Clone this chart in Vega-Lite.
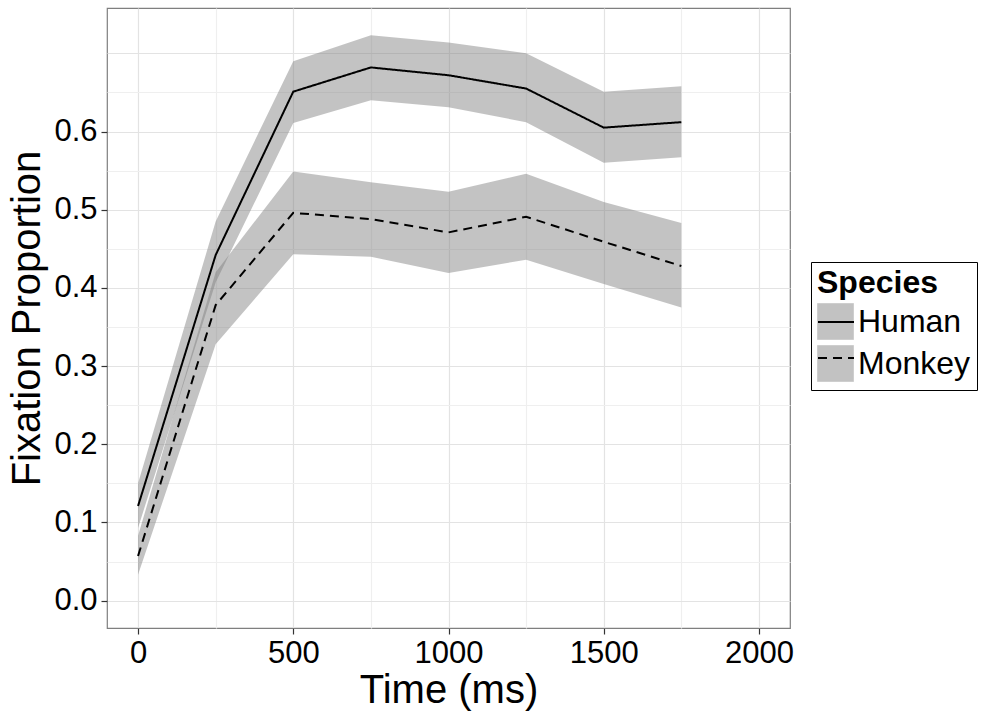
{
  "$schema": "https://vega.github.io/schema/vega-lite/v6.json",
  "autosize": "none",
  "width": 683,
  "height": 620,
  "padding": {"left": 107, "top": 8, "right": 207, "bottom": 97},
  "background": "white",
  "config": {
    "font": "Liberation Sans",
    "view": {"stroke": "#7f7f7f", "strokeWidth": 1.2}
  },
  "data": {
    "values": [
      {"Time": 0, "Species": "Human", "mean": 0.121, "lo": 0.093, "hi": 0.150},
      {"Time": 250, "Species": "Human", "mean": 0.442, "lo": 0.407, "hi": 0.485},
      {"Time": 500, "Species": "Human", "mean": 0.651, "lo": 0.611, "hi": 0.690},
      {"Time": 750, "Species": "Human", "mean": 0.682, "lo": 0.640, "hi": 0.723},
      {"Time": 1000, "Species": "Human", "mean": 0.672, "lo": 0.631, "hi": 0.714},
      {"Time": 1250, "Species": "Human", "mean": 0.655, "lo": 0.612, "hi": 0.700},
      {"Time": 1500, "Species": "Human", "mean": 0.605, "lo": 0.560, "hi": 0.651},
      {"Time": 1750, "Species": "Human", "mean": 0.612, "lo": 0.567, "hi": 0.658},
      {"Time": 0, "Species": "Monkey", "mean": 0.057, "lo": 0.033, "hi": 0.083},
      {"Time": 250, "Species": "Monkey", "mean": 0.378, "lo": 0.328, "hi": 0.420},
      {"Time": 500, "Species": "Monkey", "mean": 0.496, "lo": 0.443, "hi": 0.549},
      {"Time": 750, "Species": "Monkey", "mean": 0.488, "lo": 0.440, "hi": 0.535},
      {"Time": 1000, "Species": "Monkey", "mean": 0.471, "lo": 0.419, "hi": 0.523},
      {"Time": 1250, "Species": "Monkey", "mean": 0.491, "lo": 0.436, "hi": 0.546},
      {"Time": 1500, "Species": "Monkey", "mean": 0.459, "lo": 0.405, "hi": 0.510},
      {"Time": 1750, "Species": "Monkey", "mean": 0.428, "lo": 0.375, "hi": 0.483}
    ]
  },
  "encoding": {
    "x": {
      "field": "Time",
      "type": "quantitative",
      "scale": {"domain": [-100, 2100], "nice": false, "zero": false},
      "axis": {
        "title": "Time (ms)",
        "titleFontSize": 40,
        "titleFontWeight": "normal",
        "titleColor": "black",
        "titlePadding": 2,
        "values": [0, 250, 500, 750, 1000, 1250, 1500, 1750, 2000],
        "labelExpr": "datum.value % 500 === 0 ? format(datum.value, 'd') : ''",
        "labelFontSize": 31,
        "labelColor": "black",
        "labelPadding": 4,
        "labelOverlap": false,
        "labelFlush": false,
        "domain": false,
        "tickSize": 6,
        "tickWidth": 1.2,
        "tickColor": "#333333",
        "tickOpacity": {"condition": {"test": "datum.value % 500 !== 0", "value": 0}, "value": 1},
        "gridColor": {"condition": {"test": "datum.value % 500 === 0", "value": "#e3e3e3"}, "value": "#efefef"},
        "gridWidth": 1.2
      }
    },
    "y": {"field": "mean", "type": "quantitative"}
  },
  "layer": [
    {
      "mark": {"type": "area", "fillOpacity": 0.47},
      "encoding": {
        "y": {
          "field": "lo",
          "type": "quantitative",
          "scale": {"domain": [-0.035, 0.758], "nice": false, "zero": false},
          "axis": {
            "title": "Fixation Proportion",
            "titleFontSize": 40,
            "titleFontWeight": "normal",
            "titleColor": "black",
            "titlePadding": 6,
            "values": [0, 0.05, 0.1, 0.15, 0.2, 0.25, 0.3, 0.35, 0.4, 0.45, 0.5, 0.55, 0.6, 0.65, 0.7],
            "labelExpr": "abs(datum.value*10 - round(datum.value*10)) < 0.001 && datum.value < 0.65 ? format(datum.value, '.1f') : ''",
            "labelFontSize": 31,
            "labelColor": "black",
            "labelPadding": 4,
            "labelOverlap": false,
            "labelFlush": false,
            "domain": false,
            "tickSize": 6,
            "tickWidth": 1.2,
            "tickColor": "#333333",
            "tickOpacity": {"condition": {"test": "abs(datum.value*10 - round(datum.value*10)) < 0.001 && datum.value < 0.65", "value": 1}, "value": 0},
            "gridColor": {"condition": {"test": "abs(datum.value*10 - round(datum.value*10)) < 0.001", "value": "#e3e3e3"}, "value": "#efefef"},
            "gridWidth": 1.2
          }
        },
        "y2": {"field": "hi"},
        "fill": {
          "field": "Species",
          "type": "nominal",
          "scale": {"domain": ["Human", "Monkey"], "range": ["#7f7f7f", "#7f7f7f"]},
          "legend": {
            "title": "Species",
            "orient": "none",
            "legendX": 704,
            "legendY": 254,
            "titleFontSize": 32,
            "titleFontWeight": "bold",
            "titleColor": "black",
            "titlePadding": 3,
            "labelFontSize": 32,
            "labelColor": "black",
            "labelOffset": 4,
            "symbolType": "square",
            "symbolSize": 1296,
            "symbolOpacity": 0.47,
            "symbolStrokeColor": "#999999",
            "symbolStrokeWidth": 1,
            "rowPadding": 1,
            "padding": 6,
            "strokeColor": "black",
            "fillColor": "white"
          }
        }
      }
    },
    {
      "mark": {"type": "line", "color": "black", "strokeWidth": 2},
      "encoding": {
        "strokeDash": {
          "field": "Species",
          "type": "nominal",
          "scale": {"range": [[1, 0], [9, 6]]},
          "legend": {
            "title": "\u00a0",
            "orient": "none",
            "legendX": 704,
            "legendY": 254,
            "titleFontSize": 32,
            "titleFontWeight": "bold",
            "titleColor": "transparent",
            "titlePadding": 3,
            "labelFontSize": 32,
            "labelColor": "transparent",
            "labelExpr": "''",
            "labelOffset": 4,
            "symbolType": "stroke",
            "symbolSize": 1296,
            "symbolStrokeColor": "black",
            "symbolStrokeWidth": 2,
            "rowPadding": 1,
            "padding": 6
          }
        }
      }
    }
  ]
}
